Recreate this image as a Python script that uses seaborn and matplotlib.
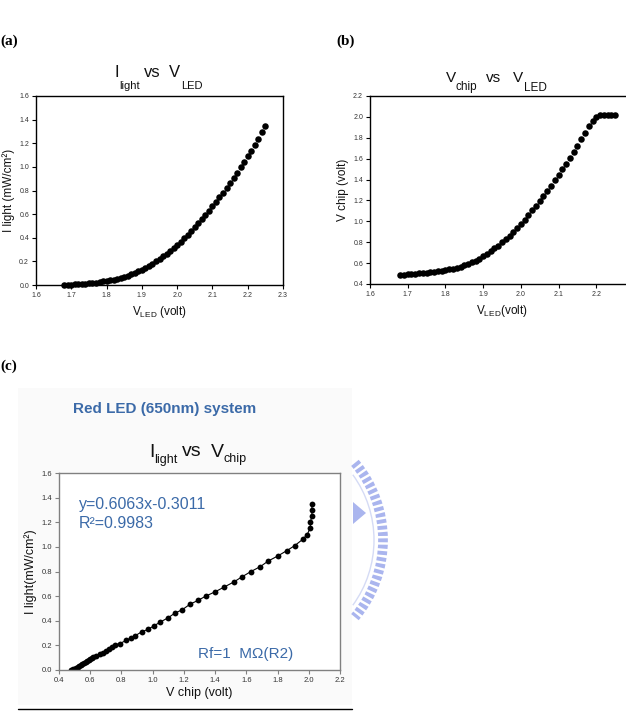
import matplotlib
matplotlib.use("Agg")
import matplotlib.pyplot as plt
import matplotlib.patches as mpatches
from matplotlib.ticker import FormatStrFormatter
import seaborn as sns
import pandas as pd

# ---- datos ------------------------------------------------------------------
# (a) y (b): barrido de V_LED
v_led = [1.68, 1.69, 1.70, 1.71, 1.72, 1.73, 1.74, 1.75, 1.76, 1.77,
         1.78, 1.79, 1.80, 1.81, 1.82, 1.83, 1.84, 1.85, 1.86, 1.87,
         1.88, 1.89, 1.90, 1.91, 1.92, 1.93, 1.94, 1.95, 1.96, 1.97,
         1.98, 1.99, 2.00, 2.01, 2.02, 2.03, 2.04, 2.05, 2.06, 2.07,
         2.08, 2.09, 2.10, 2.11, 2.12, 2.13, 2.14, 2.15, 2.16, 2.17,
         2.18, 2.19, 2.20, 2.21, 2.22, 2.23, 2.24, 2.25]
i_light = [0.000, 0.002, 0.003, 0.006, 0.008, 0.010, 0.012, 0.015, 0.018, 0.021,
           0.025, 0.030, 0.034, 0.040, 0.046, 0.053, 0.061, 0.070, 0.080, 0.091,
           0.103, 0.116, 0.130, 0.146, 0.163, 0.181, 0.200, 0.220, 0.242, 0.265,
           0.289, 0.314, 0.340, 0.368, 0.397, 0.427, 0.458, 0.490, 0.523, 0.557,
           0.592, 0.628, 0.665, 0.703, 0.742, 0.782, 0.823, 0.865, 0.908, 0.952,
           0.997, 1.043, 1.090, 1.138, 1.187, 1.240, 1.295, 1.350]
v_chip = [0.490, 0.490, 0.492, 0.496, 0.500, 0.502, 0.505, 0.510, 0.514, 0.518,
          0.522, 0.527, 0.533, 0.540, 0.548, 0.557, 0.567, 0.579, 0.592, 0.607,
          0.624, 0.643, 0.665, 0.688, 0.713, 0.740, 0.768, 0.798, 0.830, 0.863,
          0.898, 0.935, 0.975, 1.017, 1.060, 1.104, 1.150, 1.196, 1.244, 1.292,
          1.342, 1.393, 1.445, 1.498, 1.552, 1.607, 1.663, 1.720, 1.785, 1.850,
          1.912, 1.965, 2.000, 2.015, 2.020, 2.022, 2.022, 2.022]

# (c): I_light vs V_chip (Red LED 650nm)
c_vchip = [0.48, 0.49, 0.50, 0.51, 0.52, 0.53, 0.54, 0.55, 0.56, 0.57,
           0.58, 0.59, 0.60, 0.61, 0.62, 0.64, 0.66, 0.68, 0.70, 0.72,
           0.74, 0.76, 0.79, 0.83, 0.86, 0.89, 0.93, 0.97, 1.01, 1.05,
           1.10, 1.14, 1.19, 1.24, 1.29, 1.34, 1.40, 1.46, 1.52, 1.57,
           1.63, 1.69, 1.74, 1.80, 1.86, 1.91, 1.96, 1.99, 2.01, 2.01,
           2.02, 2.02, 2.02]
c_ilight = [0.000, 0.005, 0.012, 0.020, 0.028, 0.035, 0.043, 0.050, 0.060, 0.068,
            0.075, 0.083, 0.090, 0.098, 0.105, 0.115, 0.128, 0.140, 0.155, 0.170,
            0.185, 0.205, 0.215, 0.240, 0.260, 0.280, 0.310, 0.330, 0.360, 0.390,
            0.425, 0.460, 0.490, 0.535, 0.565, 0.600, 0.635, 0.675, 0.715, 0.755,
            0.800, 0.840, 0.885, 0.925, 0.970, 1.010, 1.060, 1.100, 1.155, 1.200,
            1.250, 1.300, 1.350]

ticks_vled = [1.6, 1.7, 1.8, 1.9, 2.0, 2.1, 2.2, 2.3]
ticks_ilight = [0.0, 0.2, 0.4, 0.6, 0.8, 1.0, 1.2, 1.4, 1.6]
ticks_vchip = [0.4, 0.6, 0.8, 1.0, 1.2, 1.4, 1.6, 1.8, 2.0, 2.2]

df_ab = pd.DataFrame({'v_led': v_led, 'i_light': i_light, 'v_chip': v_chip})
df_c = pd.DataFrame({'v_chip': c_vchip, 'i_light': c_ilight})

# ---- estilo -------------------------------------------------------------------
sns.set_theme(style="ticks")
plt.rcParams['font.family'] = ['Liberation Sans', 'DejaVu Sans']
plt.rcParams['mathtext.fontset'] = 'custom'
plt.rcParams['mathtext.rm'] = 'Liberation Sans'
plt.rcParams['mathtext.it'] = 'Liberation Sans:italic'
plt.rcParams['mathtext.default'] = 'regular'

W, H = 626, 726
fig = plt.figure(figsize=(W / 100, H / 100), dpi=100, facecolor='white')


def px_axes(left, top, right, bottom):
    return fig.add_axes([left / W, 1 - bottom / H, (right - left) / W, (bottom - top) / H])


# capa de fondo en pixeles para textos y adornos
bg = fig.add_axes([0, 0, 1, 1], zorder=-1)
bg.set_xlim(0, W)
bg.set_ylim(H, 0)
bg.axis('off')

blue = '#3b6aa8'


def style_axes(ax, xt, yt, xl, yl, spine_color, labelsize, lab_size):
    ax.set_xticks(xt)
    ax.set_yticks(yt)
    ax.set_xlim(xt[0], xt[-1])
    ax.set_ylim(yt[0], yt[-1])
    ax.xaxis.set_major_formatter(FormatStrFormatter('%.1f'))
    ax.yaxis.set_major_formatter(FormatStrFormatter('%.1f'))
    ax.tick_params(direction='out', length=3, width=0.8, pad=2,
                   labelsize=labelsize, labelcolor='#333333', color=spine_color)
    for s in ax.spines.values():
        s.set_color(spine_color)
        s.set_linewidth(1.0)
    ax.set_xlabel(xl, fontsize=lab_size, color='#111111', labelpad=4)
    ax.set_ylabel(yl, fontsize=lab_size, color='#111111', labelpad=3)
    ax.set_facecolor('white')
    ax.grid(False)


# ---- (a) I_light vs V_LED ----------------------------------------------------
ax_a = px_axes(36, 96, 283, 285)
sns.scatterplot(data=df_ab, x='v_led', y='i_light', ax=ax_a, color='black',
                s=22, linewidth=0, clip_on=False, zorder=3)
style_axes(ax_a, ticks_vled, ticks_ilight, r'$V_{LED}$ (volt)',
           'I light (mW/cm²)', 'black', 5, 8.5)

# ---- (b) V_chip vs V_LED -----------------------------------------------------
ax_b = px_axes(370, 96, 634, 284)
sns.scatterplot(data=df_ab, x='v_led', y='v_chip', ax=ax_b, color='black',
                s=22, linewidth=0, clip_on=False, zorder=3)
style_axes(ax_b, ticks_vled, ticks_vchip, r'$V_{LED}$(volt)',
           'V chip (volt)', 'black', 5, 8.5)

# ---- (c) I_light vs V_chip ---------------------------------------------------
# fondo gris claro del panel y marca de agua
bg.add_patch(mpatches.Rectangle((18, 388), 334, 317, facecolor='#fafafa', edgecolor='none'))
bg.add_patch(mpatches.Arc((263, 540), 240, 240, theta1=-40, theta2=40,
                          color='#aab5ee', lw=7, linestyle=(0, (0.4, 0.25))))
bg.add_patch(mpatches.Arc((263, 540), 222, 222, theta1=-36, theta2=36,
                          color='#d5dbf5', lw=1))
bg.add_patch(mpatches.Polygon([(353, 502), (353, 524), (366, 513)],
                              closed=True, facecolor='#aab5ee', edgecolor='none'))

ax_c = px_axes(59, 473, 340, 670)
sns.lineplot(data=df_c, x='v_chip', y='i_light', ax=ax_c, sort=False, estimator=None,
             color='black', lw=0.8, marker='o', markersize=4.2, markeredgewidth=0)
style_axes(ax_c, ticks_vchip, ticks_ilight, 'V chip (volt)',
           'I light(mW/cm²)', '#808080', 5.5, 9)
ax_c.xaxis.labelpad = 2

ax_c.text(0.07, 0.817, 'y=0.6063x-0.3011', transform=ax_c.transAxes,
          fontsize=11.5, color=blue, va='baseline')
ax_c.text(0.07, 0.721, 'R²=0.9983', transform=ax_c.transAxes,
          fontsize=11.5, color=blue, va='baseline')
ax_c.text(0.495, 0.061, 'Rf=1  MΩ(R2)', transform=ax_c.transAxes,
          fontsize=11, color=blue, va='baseline')

bg.plot([18, 352], [709, 709], color='black', lw=1)

# ---- titulos y etiquetas de panel --------------------------------------------
panel_font = dict(family=['Liberation Serif', 'DejaVu Serif'], fontweight='bold',
                  fontsize=11, color='black', va='baseline')
bg.text(0, 45, '(a)', **panel_font)
bg.text(336, 45, '(b)', **panel_font)
bg.text(0, 370, '(c)', **panel_font)

tk = dict(color='#111111', va='baseline', ha='left')
# (a)
bg.text(115, 77, 'I', fontsize=12, **tk)
bg.text(119, 89, 'light', fontsize=8, **tk)
bg.text(144, 77, 'vs', fontsize=12, **tk)
bg.text(169, 77, 'V', fontsize=12, **tk)
bg.text(181, 89, 'LED', fontsize=8, **tk)
# (b)
bg.text(446, 82, 'V', fontsize=11, **tk)
bg.text(456, 90, 'chip', fontsize=8.5, **tk)
bg.text(486, 82, 'vs', fontsize=11, **tk)
bg.text(513, 82, 'V', fontsize=11, **tk)
bg.text(524, 91, 'LED', fontsize=8.5, **tk)
# (c)
bg.text(73, 413, 'Red LED (650nm) system', fontsize=11, fontweight='bold',
        color=blue, va='baseline')
bg.text(149, 457, 'I', fontsize=14, **tk)
bg.text(154, 463, 'light', fontsize=9, **tk)
bg.text(182, 456, 'vs', fontsize=14, **tk)
bg.text(211, 457, 'V', fontsize=14, **tk)
bg.text(224, 462, 'chip', fontsize=9, **tk)

fig.savefig('out.png', dpi=100, facecolor='white')
plt.close()
